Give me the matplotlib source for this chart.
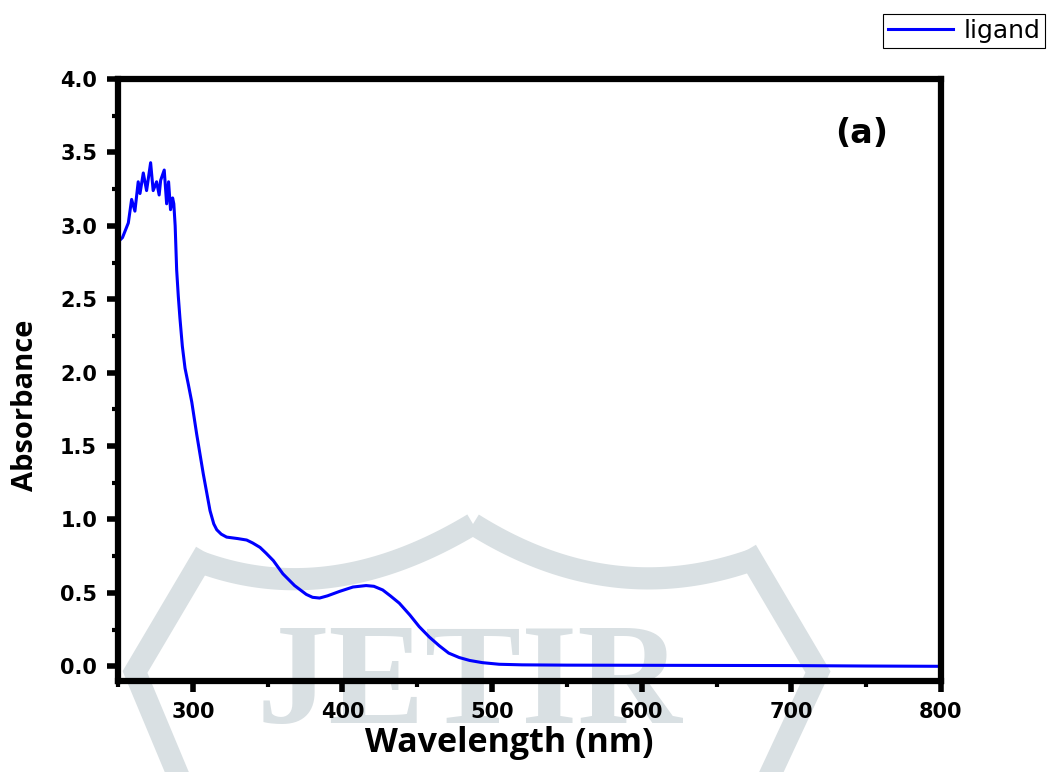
import matplotlib
matplotlib.use("Agg")
import matplotlib.pyplot as plt
from matplotlib.ticker import MultipleLocator
import numpy as np

# UV-vis spectrum of the ligand
wavelength = [250, 253, 256.9, 259.1, 261.3, 263.5, 264.7, 266.9, 269.1, 271.8,
              273.5, 275.8, 277.5, 278.5, 280.9, 282.5, 283.8, 285.1, 286.5, 287.3,
              288.2, 289.2, 290.3, 291.4, 293, 294.8, 297, 299.3, 302.6, 307,
              311.5, 314, 316, 319, 322.6, 330, 336, 340, 344.9, 349,
              353.8, 360.2, 368, 375.8, 380, 384.7, 390, 398, 407, 415.8,
              421, 426.9, 432, 438, 445, 451.3, 458, 464.7, 471, 478,
              485, 493.5, 504.7, 520, 550, 600, 650, 700, 750, 800]
absorbance = [2.89, 2.92, 3.02, 3.18, 3.10, 3.30, 3.22, 3.36, 3.24, 3.43,
              3.24, 3.30, 3.21, 3.31, 3.38, 3.15, 3.30, 3.11, 3.19, 3.15,
              3.00, 2.70, 2.52, 2.37, 2.18, 2.03, 1.92, 1.80, 1.58, 1.31,
              1.06, 0.97, 0.93, 0.90, 0.88, 0.87, 0.86, 0.84, 0.81, 0.77,
              0.72, 0.63, 0.55, 0.49, 0.47, 0.465, 0.48, 0.51, 0.54, 0.55,
              0.545, 0.52, 0.48, 0.43, 0.35, 0.27, 0.20, 0.14, 0.09, 0.06,
              0.04, 0.025, 0.014, 0.010, 0.008, 0.007, 0.006, 0.005, 0.002, 0.0]
series_label = "ligand"
panel_label = "(a)"

fig = plt.figure(figsize=(10.5, 7.72), dpi=100)
fig.patch.set_facecolor("white")

# faint watermark layer (pixel coordinates), drawn behind the plot
bg = fig.add_axes([0, 0, 1, 1], zorder=0)
bg.set_xlim(0, 1050)
bg.set_ylim(772, 0)
bg.axis("off")
wm = "#d9e0e3"

def qbez(p0, p1, p2, n=60):
    t = np.linspace(0, 1, n)[:, None]
    p0, p1, p2 = map(np.array, (p0, p1, p2))
    return (1 - t) ** 2 * p0 + 2 * (1 - t) * t * p1 + t ** 2 * p2

left_arc = qbez((200, 562), (330, 610), (473, 524))
right_arc = qbez((473, 524), (610, 610), (752, 560))
for seg in (left_arc, right_arc):
    bg.plot(seg[:, 0], seg[:, 1], color=wm, lw=16, solid_capstyle="butt")
bg.plot([200, 135, 178], [562, 672, 775], color=wm, lw=16, solid_joinstyle="miter")
bg.plot([752, 818, 770], [560, 672, 775], color=wm, lw=16, solid_joinstyle="miter")
bg.text(469, 689, "JETIR", family="Liberation Serif", fontweight="bold", fontsize=104,
        color=wm, ha="center", va="center")

ax = fig.add_axes([118 / 1050, 1 - 681 / 772, (941 - 118) / 1050, (681 - 79) / 772], zorder=1)
ax.set_facecolor("none")
ax.plot(wavelength, absorbance, color="#0000ff", lw=2.2, label=series_label)

ax.set_xlim(250, 800)
ax.set_ylim(-0.1, 3.97)
ax.xaxis.set_major_locator(MultipleLocator(100))
ax.xaxis.set_minor_locator(MultipleLocator(50))
ax.yaxis.set_minor_locator(MultipleLocator(0.25))
ax.set_yticks(np.arange(0, 4.01, 0.5))
ax.set_yticklabels([f"{v:.1f}" for v in np.arange(0, 4.01, 0.5)])

for s in ax.spines.values():
    s.set_linewidth(4.5)
ax.tick_params(which="major", direction="out", length=8, width=4, pad=7,
               top=False, right=False)
ax.tick_params(which="minor", direction="out", length=4, width=3,
               top=False, right=False)
for lab in ax.get_xticklabels() + ax.get_yticklabels():
    lab.set_fontfamily("DejaVu Sans")
    lab.set_fontweight("bold")
    lab.set_fontsize(15)

ax.set_xlabel("Wavelength (nm)", family="Open Sans", fontweight="bold", fontsize=24.5)
ax.xaxis.set_label_coords(0.475, -0.075)
ax.set_ylabel("Absorbance", family="Open Sans", fontweight="bold", fontsize=21)
ax.yaxis.set_label_coords(-0.095, 0.458)

ax.text(0.903, 0.91, panel_label, transform=ax.transAxes, family="DejaVu Sans",
        fontweight="bold", fontsize=24, ha="center", va="center")

leg = fig.legend(loc="upper right", bbox_to_anchor=(1045 / 1050, 1 - 14 / 772),
                 frameon=True, fancybox=False, edgecolor="black", framealpha=1,
                 prop={"family": "DejaVu Sans", "size": 18}, handlelength=2.6,
                 borderpad=0.2, handletextpad=0.4, borderaxespad=0)
leg.get_frame().set_linewidth(0.8)

fig.savefig("out.png", dpi=100)
